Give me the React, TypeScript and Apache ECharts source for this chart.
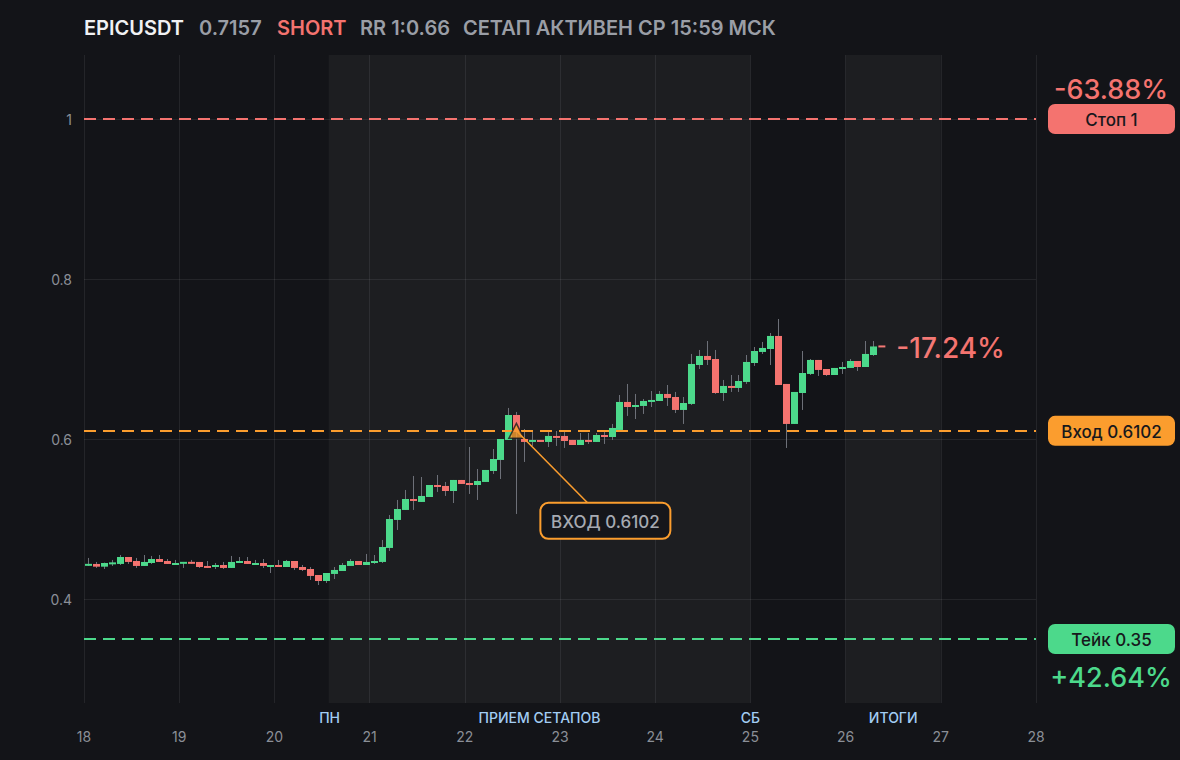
import React, { useEffect, useRef } from "react";
import * as echarts from "echarts";

// ---- data ----
const SYMBOL = "EPICUSDT";
const LAST_PRICE_TEXT = "0.7157";
const SIDE = "SHORT";
const RR_TEXT = "RR 1:0.66";
const STATUS_TEXT = "СЕТАП АКТИВЕН СР 15:59 МСК";

const X_TICKS_MIN = 18;
const X_TICKS_MAX = 28;
const CANDLES_PER_DAY = 12; // 2h candles

const opens = [
  0.4416, 0.4438, 0.4404, 0.4441, 0.4438, 0.4525, 0.4475, 0.4413, 0.445, 0.45,
  0.4475, 0.4425, 0.4441, 0.4463, 0.4463, 0.4413, 0.44, 0.4425, 0.4388, 0.445,
  0.4475, 0.4425, 0.445, 0.44, 0.4425, 0.44, 0.4475, 0.44, 0.4375, 0.43,
  0.4225, 0.4313, 0.435, 0.4413, 0.4475, 0.4425, 0.445, 0.4463, 0.4638, 0.4988,
  0.5113, 0.525, 0.5213, 0.5275, 0.5425, 0.5413, 0.535, 0.5488, 0.545, 0.5425,
  0.5463, 0.56, 0.5738, 0.5988, 0.63, 0.6, 0.5963, 0.5988, 0.5963, 0.6038,
  0.6038, 0.5988, 0.5925, 0.5988, 0.5963, 0.605, 0.6025, 0.6113, 0.6463, 0.64,
  0.6413, 0.6463, 0.6475, 0.6563, 0.6525, 0.6363, 0.6438, 0.6925, 0.7038, 0.7,
  0.6575, 0.6663, 0.6638, 0.6713, 0.695, 0.7088, 0.7125, 0.7288, 0.6688, 0.6188,
  0.6575, 0.6813, 0.6988, 0.6875, 0.68, 0.6875, 0.6888, 0.6975, 0.69, 0.705,
];
const closes = [
  0.4438, 0.4404, 0.445, 0.445, 0.4525, 0.4463, 0.4413, 0.4463, 0.45, 0.4463,
  0.4438, 0.445, 0.4463, 0.4441, 0.44, 0.4388, 0.4425, 0.4388, 0.4463, 0.4475,
  0.4438, 0.445, 0.4413, 0.4425, 0.44, 0.4475, 0.4388, 0.4363, 0.4288, 0.4225,
  0.4325, 0.4363, 0.4425, 0.4475, 0.4425, 0.4463, 0.4475, 0.465, 0.5, 0.5125,
  0.525, 0.5225, 0.5288, 0.5425, 0.54, 0.535, 0.5488, 0.5438, 0.5425, 0.5475,
  0.5613, 0.575, 0.6, 0.63, 0.6088, 0.5963, 0.5988, 0.5963, 0.6038, 0.6013,
  0.5975, 0.5925, 0.5988, 0.5963, 0.605, 0.6025, 0.6138, 0.6463, 0.64, 0.6425,
  0.6475, 0.6488, 0.6563, 0.6513, 0.6363, 0.645, 0.6938, 0.7038, 0.6988, 0.6575,
  0.6663, 0.6638, 0.6725, 0.6963, 0.71, 0.7138, 0.7288, 0.6675, 0.6188, 0.6588,
  0.6825, 0.6988, 0.6863, 0.68, 0.6888, 0.69, 0.6975, 0.69, 0.7063, 0.7157,
];
const lows = [
  0.4413, 0.4388, 0.4375, 0.4413, 0.4425, 0.4438, 0.4388, 0.4413, 0.4438, 0.4463,
  0.4438, 0.4425, 0.4388, 0.4438, 0.4388, 0.4388, 0.4375, 0.4375, 0.4388, 0.445,
  0.4438, 0.4425, 0.4388, 0.4325, 0.44, 0.44, 0.4363, 0.435, 0.4238, 0.4175,
  0.42, 0.425, 0.435, 0.4413, 0.4425, 0.4425, 0.4438, 0.445, 0.46, 0.4863,
  0.5113, 0.5113, 0.5213, 0.5275, 0.5338, 0.5288, 0.52, 0.5438, 0.5313, 0.5238,
  0.5463, 0.5563, 0.55, 0.5988, 0.5063, 0.5713, 0.5913, 0.5963, 0.59, 0.5913,
  0.5888, 0.5925, 0.5925, 0.5938, 0.5963, 0.5938, 0.5988, 0.6113, 0.6288, 0.625,
  0.6313, 0.64, 0.6475, 0.6413, 0.6325, 0.6188, 0.6425, 0.6875, 0.6925, 0.6563,
  0.6475, 0.6588, 0.6588, 0.6688, 0.6913, 0.7063, 0.6925, 0.6675, 0.5888, 0.6188,
  0.6363, 0.68, 0.6788, 0.6788, 0.68, 0.6813, 0.6888, 0.685, 0.69, 0.7038,
];
const highs = [
  0.4513, 0.4463, 0.4455, 0.4488, 0.455, 0.4525, 0.4513, 0.455, 0.4538, 0.455,
  0.45, 0.4488, 0.4463, 0.4488, 0.4463, 0.4475, 0.445, 0.4463, 0.4538, 0.4525,
  0.4525, 0.4488, 0.45, 0.4425, 0.4488, 0.4488, 0.4475, 0.4425, 0.44, 0.43,
  0.4325, 0.44, 0.445, 0.45, 0.4475, 0.4563, 0.455, 0.4738, 0.505, 0.5238,
  0.5363, 0.5538, 0.5525, 0.5425, 0.555, 0.5463, 0.5488, 0.5488, 0.59, 0.5625,
  0.5613, 0.5875, 0.6, 0.6388, 0.6338, 0.6125, 0.61, 0.5988, 0.61, 0.61,
  0.61, 0.5988, 0.6075, 0.6075, 0.6075, 0.61, 0.6188, 0.655, 0.6688, 0.6563,
  0.65, 0.66, 0.66, 0.6675, 0.6588, 0.6525, 0.7063, 0.7113, 0.7225, 0.7113,
  0.6738, 0.68, 0.68, 0.705, 0.715, 0.7213, 0.7325, 0.75, 0.6688, 0.6588,
  0.71, 0.7, 0.6988, 0.6875, 0.6888, 0.6963, 0.7, 0.6975, 0.7225, 0.7225,
];

const LEVEL_NAMES = ["Стоп 1", "Вход 0.6102", "Тейк 0.35"];
const LEVEL_VALUES = [1, 0.6102, 0.35];
const LEVEL_PCTS = ["-63.88%", "", "+42.64%"];
const CURRENT_PCT = "-17.24%";

const ENTRY_CANDLE = 54;
const ENTRY_PRICE = 0.6102;
const ENTRY_LABEL = "ВХОД 0.6102";

const BAND_FROM = [20.57, 26];
const BAND_TO = [25, 27];
const BAND_LABELS = ["ПРИЕМ СЕТАПОВ", "ИТОГИ"];
const MARKER_DAYS = [20.58, 25];
const MARKER_LABELS = ["ПН", "СБ"];

// ---- style ----
const BG = "#131418";
const RED = "#f4736f";
const GREEN = "#4cd98b";
const ORANGE = "#fb9d2e";
const GRAY = "#8b8f97";
const TITLE_GRAY = "#9a9ea6";
const WICK = "#6d7078";
const GRID = "rgba(255,255,255,0.075)";
const FONT = "Inter, 'Noto Sans', sans-serif";
const LEVEL_COLORS = [RED, ORANGE, GREEN];

const candleTime = (i: number) => X_TICKS_MIN + (i + 0.5) / CANDLES_PER_DAY;

export default function App() {
  const ref = useRef<HTMLDivElement>(null);
  useEffect(() => {
    document.body.style.margin = "0";
    document.body.style.background = BG;
    if (!ref.current) return;
    const chart = echarts.init(ref.current, null, { renderer: "svg" });
    const candleData = opens.map((o, i) => [candleTime(i), o, closes[i], lows[i], highs[i]]);
    const entryTime = candleTime(ENTRY_CANDLE);

    chart.setOption({
      animation: false,
      backgroundColor: BG,
      textStyle: { fontFamily: FONT },
      grid: { left: 84, right: 144, top: 55, bottom: 57, containLabel: false },
      xAxis: {
        type: "value",
        min: X_TICKS_MIN,
        max: X_TICKS_MAX,
        interval: 1,
        axisLine: { show: false },
        axisTick: { show: false },
        axisLabel: { color: GRAY, fontSize: 14, margin: 26, fontFamily: FONT },
        splitLine: { show: true, lineStyle: { color: GRID, width: 1 } },
      },
      yAxis: {
        type: "value",
        min: 0.27,
        max: 1.08,
        splitNumber: 5,
        axisLine: { show: false },
        axisTick: { show: false },
        axisLabel: {
          color: GRAY,
          fontSize: 14,
          margin: 12,
          fontFamily: FONT,
          showMinLabel: false,
          showMaxLabel: false,
        },
        splitLine: { show: true, showMinLine: false, showMaxLine: false, lineStyle: { color: GRID, width: 1 } },
      },
      series: [
        {
          type: "line",
          name: "bands",
          data: [],
          z: 1,
          silent: true,
          markArea: {
            silent: true,
            itemStyle: { color: "rgba(255,255,255,0.045)" },
            label: { show: false },
            data: BAND_FROM.map((f, i) => [{ xAxis: f }, { xAxis: BAND_TO[i] }]),
          },
        },
        {
          type: "custom",
          name: "candles",
          z: 2,
          clip: true,
          encode: { x: 0, y: [1, 2, 3, 4] },
          data: candleData,
          renderItem: (params: any, api: any) => {
            const t = api.value(0);
            const o = api.value(1);
            const c = api.value(2);
            const l = api.value(3);
            const h = api.value(4);
            const pO = api.coord([t, o]);
            const pC = api.coord([t, c]);
            const pL = api.coord([t, l]);
            const pH = api.coord([t, h]);
            const x = Math.round(pO[0]);
            let top = Math.min(pO[1], pC[1]);
            let hh = Math.abs(pO[1] - pC[1]);
            if (hh < 2) {
              top -= (2 - hh) / 2;
              hh = 2;
            }
            return {
              type: "group",
              children: [
                {
                  type: "line",
                  shape: { x1: x + 0.5, y1: pH[1], x2: x + 0.5, y2: pL[1] },
                  style: { stroke: WICK, lineWidth: 1 },
                },
                {
                  type: "rect",
                  shape: { x: x - 3, y: top, width: 7, height: hh },
                  style: { fill: c >= o ? GREEN : RED },
                },
              ],
            };
          },
        },
        {
          type: "line",
          name: "levels",
          data: [],
          z: 3,
          silent: true,
          markLine: {
            silent: true,
            symbol: ["none", "none"],
            label: { show: false },
            data: LEVEL_VALUES.map((v, i) => ({
              yAxis: v,
              lineStyle: { color: LEVEL_COLORS[i], width: 2, type: [12, 7] },
            })),
          },
        },
        {
          type: "scatter",
          name: "entry",
          z: 5,
          symbol: "triangle",
          symbolSize: [15, 15],
          itemStyle: { color: ORANGE, borderColor: "#1a1b20", borderWidth: 1.5 },
          data: [[entryTime, ENTRY_PRICE]],
        },
      ],
    });

    const px = (x: number, y: number) => chart.convertToPixel({ xAxisIndex: 0, yAxisIndex: 0 }, [x, y]) as number[];
    const graphics: any[] = [];

    // title
    const titleParts = [
      { text: SYMBOL, color: "#f0f1f3", x: 84 },
      { text: LAST_PRICE_TEXT, color: TITLE_GRAY, x: 199 },
      { text: SIDE, color: RED, x: 277 },
      { text: RR_TEXT, color: TITLE_GRAY, x: 360 },
      { text: STATUS_TEXT, color: TITLE_GRAY, x: 463 },
    ];
    titleParts.forEach((p) =>
      graphics.push({
        type: "text",
        x: p.x,
        y: 28,
        style: {
          text: p.text,
          fill: p.color,
          font: `600 20px ${FONT}`,
          verticalAlign: "middle",
          align: "left",
        },
      })
    );

    // level tags
    LEVEL_VALUES.forEach((v, i) => {
      const y = px(X_TICKS_MAX, v)[1];
      graphics.push({
        type: "rect",
        shape: { x: 1048, y: y - 15, width: 127, height: 30, r: 7 },
        style: { fill: LEVEL_COLORS[i] },
      });
      graphics.push({
        type: "text",
        x: 1111.5,
        y: y + 1,
        style: {
          text: LEVEL_NAMES[i],
          fill: "#17181c",
          font: `500 17px ${FONT}`,
          align: "center",
          verticalAlign: "middle",
        },
      });
      if (LEVEL_PCTS[i]) {
        const above = i === 0;
        graphics.push({
          type: "text",
          x: 1111,
          y: above ? y - 30 : y + 38,
          style: {
            text: LEVEL_PCTS[i],
            fill: LEVEL_COLORS[i],
            font: `500 27px ${FONT}`,
            align: "center",
            verticalAlign: "middle",
          },
        });
      }
    });

    // current price marker
    const last = opens.length - 1;
    const lp = px(candleTime(last), closes[last]);
    graphics.push({
      type: "line",
      shape: { x1: lp[0] + 5, y1: lp[1], x2: lp[0] + 12, y2: lp[1] },
      style: { stroke: RED, lineWidth: 2 },
    });
    graphics.push({
      type: "text",
      x: lp[0] + 23,
      y: lp[1] + 2,
      style: {
        text: CURRENT_PCT,
        fill: RED,
        font: `500 28px ${FONT}`,
        align: "left",
        verticalAlign: "middle",
      },
    });

    // entry annotation
    const ep = px(entryTime, ENTRY_PRICE);
    const bx = ep[0] + 89;
    const by = ep[1] + 90;
    graphics.push({
      type: "line",
      z: 10,
      shape: { x1: ep[0], y1: ep[1], x2: bx, y2: by },
      style: { stroke: ORANGE, lineWidth: 1.5 },
    });
    graphics.push({
      type: "rect",
      z: 11,
      shape: { x: bx - 65, y: by - 18, width: 130, height: 36, r: 8 },
      style: { fill: "#15161b", stroke: ORANGE, lineWidth: 2 },
    });
    graphics.push({
      type: "text",
      z: 12,
      x: bx,
      y: by + 1,
      style: {
        text: ENTRY_LABEL,
        fill: "#a6aab2",
        font: `500 17px ${FONT}`,
        align: "center",
        verticalAlign: "middle",
      },
    });

    // period labels
    const labelY = 717;
    BAND_LABELS.forEach((lab, i) => {
      const x = (px(BAND_FROM[i], 0.5)[0] + px(BAND_TO[i], 0.5)[0]) / 2;
      graphics.push({
        type: "text",
        x,
        y: labelY,
        style: { text: lab, fill: "#a2cdf3", font: `500 14px ${FONT}`, align: "center", verticalAlign: "middle" },
      });
    });
    MARKER_LABELS.forEach((lab, i) => {
      const x = px(MARKER_DAYS[i], 0.5)[0];
      graphics.push({
        type: "text",
        x,
        y: labelY,
        style: { text: lab, fill: "#a2cdf3", font: `500 14px ${FONT}`, align: "center", verticalAlign: "middle" },
      });
    });

    chart.setOption({ graphic: graphics });

    return () => chart.dispose();
  }, []);

  return <div ref={ref} style={{ width: 1180, height: 760, background: BG }} />;
}
